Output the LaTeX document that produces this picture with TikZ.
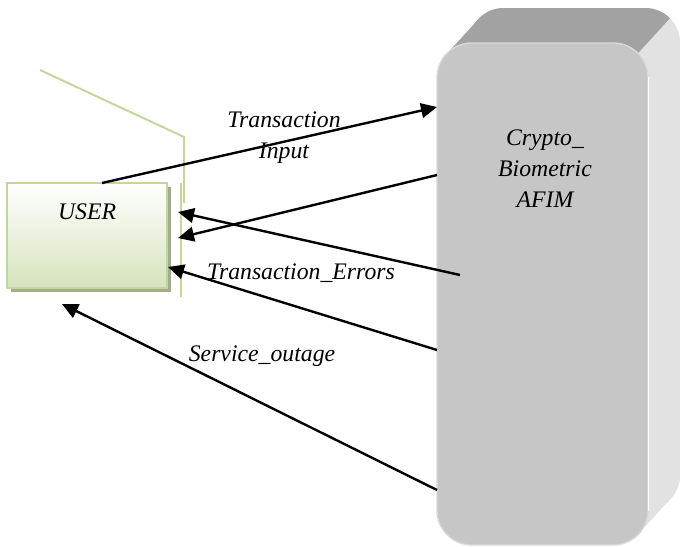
\documentclass[tikz,border=0pt]{standalone}
\usepackage{fontspec}
\setmainfont{Liberation Serif}
\usetikzlibrary{arrows.meta}
\definecolor{grn}{HTML}{C3D69B}
\definecolor{grnlight}{HTML}{D6E3BC}
\definecolor{grnshadow}{HTML}{A3AC8C}
\definecolor{frontc}{HTML}{C6C6C6}
\definecolor{frontedge}{HTML}{D9D9D9}
\definecolor{sidec}{HTML}{E2E2E2}
\definecolor{topc}{HTML}{A2A2A2}
\begin{document}
\begin{tikzpicture}[x=0.75pt,y=-0.75pt,
  lbl/.style={font=\fontsize{17.8}{23.25}\selectfont\itshape, align=center, inner sep=0pt},
  conn/.style={line width=1.8pt, -{Triangle[length=12pt,width=11pt]}},
  guide/.style={draw=grn, line width=1.5pt}]
\useasboundingbox (0,0) rectangle (680,546);
% ---- Crypto box (3D bevel) ----
\fill[sidec, rounded corners=26pt] (469,8) rectangle (680,510);
\fill[sidec] (669.7,499.7) -- (637.7,534.7) -- (613,510) -- (645,475) -- cycle;
\begin{scope}
  \clip (400,0) -- (686.4,0) -- (628.1,63.8) -- (400,63.8) -- cycle;
  \fill[topc, rounded corners=26pt] (469,8) rectangle (680,120);
\end{scope}
\fill[topc] (447.3,53.3) -- (479.3,18.3) -- (669.7,18.3) -- (637.7,53.3) -- cycle;
\node[draw=frontedge, fill=frontc, line width=1pt, rounded corners=26pt,
      minimum width=158.25pt, minimum height=376.5pt, inner sep=0pt] (crypto) at (542.5,294) {};
\draw[white, line width=1pt] ([yshift=-26pt]crypto.north east) -- ([yshift=26pt]crypto.south east);
\node[lbl] (cryptolbl) at (545,169) {Crypto\_\\Biometric\\AFIM};
% ---- USER box ----
\fill[grnshadow] (11,187) rectangle (171,292);
\node[draw=grn, line width=1.5pt, top color=white, bottom color=grnlight,
      minimum width=120pt, minimum height=78.75pt, inner sep=0pt] (user) at (87,235.5) {};
\node[lbl] (userlbl) at (87,212) {USER};
% ---- green guide lines ----
\coordinate (g1) at (40,70);
\coordinate (g2) at (184,137);
\coordinate (g3) at (184,203);
\coordinate (g4) at (181,183);
\coordinate (g5) at (181,297);
\draw[guide] (g1) -- (g2) -- (g3);
\draw[guide] (g4) -- (g5);
% ---- connectors ----
\coordinate (u1) at (102,183);  \coordinate (c1) at (437,107);
\coordinate (c2) at (437,175);  \coordinate (u2) at (178,238);
\coordinate (c3) at (460,275);  \coordinate (u3) at (178,212);
\coordinate (c4) at (437,350);  \coordinate (u4) at (168,267);
\coordinate (c5) at (437,490);  \coordinate (u5) at (62,304);
\draw[conn] (u1) -- (c1);
\draw[conn] (c2) -- (u2);
\draw[conn] (c3) -- (u3);
\draw[conn] (c4) -- (u4);
\draw[conn] (c5) -- (u5);
% ---- labels ----
\node[lbl] (l1) at (284,138) {Transaction\\Input};
\node[lbl] (l2) at (301,273) {Transaction\_Errors};
\node[lbl] (l3) at (262,356) {Service\_outage};
\end{tikzpicture}
\end{document}
